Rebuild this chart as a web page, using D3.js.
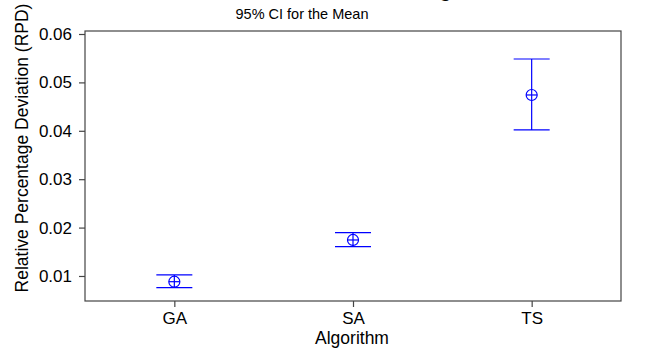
<!DOCTYPE html>
<html><head><meta charset="utf-8">
<script src="https://cdn.jsdelivr.net/npm/d3@7"></script>
<style>body{margin:0;background:#fff}svg{display:block}text{font-family:"Liberation Sans",Arial,sans-serif}</style>
</head><body>
<script>
const categories = ["GA", "SA", "TS"];
const means = [0.00882, 0.01744, 0.0474];
const lower = [0.00758, 0.01607, 0.04017];
const upper = [0.01021, 0.01895, 0.05483];
const yTicks = [0.01, 0.02, 0.03, 0.04, 0.05, 0.06];

const W = 648, H = 351;
const pL = 85, pR = 621, pT = 31, pB = 301;
const svg = d3.select("body").append("svg").attr("width", W).attr("height", H);

const x = d3.scalePoint().domain(categories).range([pL, pR]).padding(0.5);
const y = d3.scaleLinear().domain([0.00483, 0.06062]).range([pB, pT]);

// frame
svg.append("rect").attr("x", pL).attr("y", pT).attr("width", pR - pL).attr("height", pB - pT)
  .attr("fill", "none").attr("stroke", "#444").attr("stroke-width", 1.2);

const ya = svg.append("g").attr("transform", `translate(${pL},0)`)
  .call(d3.axisLeft(y).tickValues(yTicks).tickFormat(d3.format(".2f")).tickSize(6).tickPadding(7));
const xa = svg.append("g").attr("transform", `translate(0,${pB})`)
  .call(d3.axisBottom(x).tickSize(6).tickPadding(5));
[ya, xa].forEach(a => {
  a.select(".domain").remove();
  a.selectAll("line").attr("stroke", "#444").attr("stroke-width", 1.2);
  a.selectAll("text").attr("font-size", 17).attr("fill", "#000");
});

const g = svg.append("g");
const idx = d3.range(categories.length);
const blue = "#0000ff";
g.selectAll(".v").data(idx).join("line")
  .attr("x1", i => x(categories[i])).attr("x2", i => x(categories[i]))
  .attr("y1", i => y(upper[i])).attr("y2", i => y(lower[i]))
  .attr("stroke", blue).attr("stroke-width", 1.2);
g.selectAll(".cu").data(idx).join("line")
  .attr("x1", i => x(categories[i]) - 18).attr("x2", i => x(categories[i]) + 18)
  .attr("y1", i => y(upper[i])).attr("y2", i => y(upper[i]))
  .attr("stroke", blue).attr("stroke-width", 1.2);
g.selectAll(".cl").data(idx).join("line")
  .attr("x1", i => x(categories[i]) - 18).attr("x2", i => x(categories[i]) + 18)
  .attr("y1", i => y(lower[i])).attr("y2", i => y(lower[i]))
  .attr("stroke", blue).attr("stroke-width", 1.2);
g.selectAll(".c").data(idx).join("circle")
  .attr("cx", i => x(categories[i])).attr("cy", i => y(means[i])).attr("r", 5.5)
  .attr("fill", "none").attr("stroke", blue).attr("stroke-width", 1.2);
g.selectAll(".h").data(idx).join("line")
  .attr("x1", i => x(categories[i]) - 5.5).attr("x2", i => x(categories[i]) + 5.5)
  .attr("y1", i => y(means[i])).attr("y2", i => y(means[i]))
  .attr("stroke", blue).attr("stroke-width", 1.2);

// titles (main title is clipped at the top edge in the reference; only a descender shows)
const titleText = "Interval Plot of RPD vs Algorithm";
const t = svg.append("text").attr("y", -3).attr("text-anchor", "start")
  .attr("font-size", 20).attr("font-weight", "bold").text(titleText);
const pre = svg.append("text").attr("font-size", 20).attr("font-weight", "bold").text("Interval Plot of RPD vs Al");
const preW = pre.node().getComputedTextLength();
pre.remove();
t.attr("x", 445 - preW - 5.5);
svg.append("text").attr("x", 302).attr("y", 19).attr("text-anchor", "middle")
  .attr("font-size", 14.5).text("95% CI for the Mean");
svg.append("text").attr("x", 352).attr("y", 344).attr("text-anchor", "middle")
  .attr("font-size", 17.5).text("Algorithm");
svg.append("text").attr("transform", "translate(28,148) rotate(-90)").attr("text-anchor", "middle")
  .attr("font-size", 17.5).text("Relative Percentage Deviation (RPD)");
</script>
</body></html>
